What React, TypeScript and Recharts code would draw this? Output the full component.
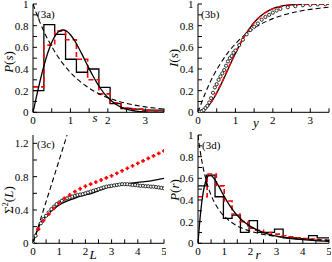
import React from 'react';
import { ComposedChart, Line, Scatter, XAxis, YAxis } from 'recharts';

const FONT = 'Liberation Serif, Times New Roman, serif';

// ---------- Panel (3a) ----------
const aEdges = [0, 0.29, 0.58, 0.87, 1.16, 1.46, 1.76, 2.06, 2.35, 2.64, 2.93, 3.22, 3.5];
const aBlackHist = [0.2, 0.81, 0.72, 0.49, 0.37, 0.4, 0.23, 0.08, 0.035, 0.03, 0.02, 0.02];
const aRedHist = [0.235, 0.62, 0.75, 0.67, 0.49, 0.3, 0.17, 0.088, 0.04, 0.03, 0.02, 0.015];
const aGoeS = [0, 0.1, 0.2, 0.3, 0.4, 0.5, 0.6, 0.7, 0.8, 0.9, 1.0, 1.1, 1.2, 1.3, 1.4, 1.5, 1.6, 1.7, 1.8, 1.9, 2.0, 2.2, 2.4, 2.6, 2.8, 3.0, 3.25, 3.5];
const aGoeP = [0, 0.156, 0.305, 0.439, 0.554, 0.645, 0.71, 0.748, 0.76, 0.748, 0.716, 0.668, 0.608, 0.542, 0.472, 0.403, 0.337, 0.276, 0.222, 0.175, 0.136, 0.077, 0.041, 0.02, 0.009, 0.004, 0.001, 0.0003];
const aPoiS = [0, 0.1, 0.2, 0.3, 0.4, 0.5, 0.6, 0.8, 1.0, 1.2, 1.4, 1.6, 1.8, 2.0, 2.25, 2.5, 2.75, 3.0, 3.25, 3.5];
const aPoiP = [1, 0.905, 0.819, 0.741, 0.67, 0.607, 0.549, 0.449, 0.368, 0.301, 0.247, 0.202, 0.165, 0.135, 0.105, 0.082, 0.064, 0.05, 0.039, 0.03];

// ---------- Panel (3b) ----------
const bGoeS = [0, 0.1, 0.2, 0.3, 0.4, 0.5, 0.6, 0.7, 0.8, 0.9, 1.0, 1.1, 1.2, 1.3, 1.4, 1.5, 1.6, 1.7, 1.8, 1.9, 2.0, 2.2, 2.4, 2.6, 2.8, 3.0, 3.5];
const bGoeI = [0, 0.008, 0.031, 0.068, 0.118, 0.178, 0.246, 0.319, 0.395, 0.471, 0.544, 0.613, 0.677, 0.735, 0.785, 0.829, 0.866, 0.897, 0.922, 0.941, 0.957, 0.978, 0.989, 0.995, 0.998, 0.999, 1.0];
const bRedS = [0, 0.2, 0.4, 0.6, 0.8, 1.0, 1.2, 1.4, 1.6, 1.8, 2.0, 2.2, 2.5, 3.0, 3.5];
const bRedI = [0, 0.04, 0.12, 0.25, 0.4, 0.55, 0.68, 0.785, 0.865, 0.92, 0.955, 0.975, 0.99, 0.997, 1.0];
const bPoiS = [0, 0.2, 0.4, 0.6, 0.8, 1.0, 1.2, 1.4, 1.6, 1.8, 2.0, 2.25, 2.5, 2.75, 3.0, 3.25, 3.5];
const bPoiI = [0, 0.181, 0.33, 0.451, 0.551, 0.632, 0.699, 0.753, 0.798, 0.835, 0.865, 0.895, 0.918, 0.936, 0.95, 0.961, 0.97];
const bDataS = [0.05, 0.1, 0.15, 0.2, 0.25, 0.3, 0.35, 0.4, 0.45, 0.5, 0.55, 0.6, 0.65, 0.7, 0.75, 0.8, 0.85, 0.9, 0.95, 1.0, 1.1, 1.2, 1.3, 1.4, 1.5, 1.6, 1.7, 1.8, 1.9, 2.0, 2.1, 2.2, 2.4, 2.6, 2.8, 3.0, 3.2, 3.4];
const bDataI = [0.005, 0.01, 0.02, 0.04, 0.06, 0.09, 0.13, 0.18, 0.23, 0.26, 0.3, 0.33, 0.36, 0.39, 0.43, 0.47, 0.5, 0.52, 0.55, 0.57, 0.62, 0.67, 0.72, 0.76, 0.79, 0.82, 0.855, 0.88, 0.9, 0.92, 0.94, 0.955, 0.97, 0.98, 0.988, 0.993, 0.996, 0.998];

// ---------- Panel (3c) ----------
const cPoiL = [0, 1.3];
const cPoiV = [0, 1.3];
const cGoeL = [0, 0.1, 0.2, 0.3, 0.4, 0.5, 0.75, 1.0, 1.25, 1.5, 1.75, 2.0, 2.25, 2.5, 2.75, 3.0, 3.5, 4.0, 4.5, 5.0];
const cGoeV = [0, 0.1, 0.18, 0.25, 0.29, 0.33, 0.4, 0.46, 0.5, 0.53, 0.56, 0.58, 0.6, 0.63, 0.66, 0.68, 0.71, 0.73, 0.75, 0.78];
const cRedL = [0.2, 0.4, 0.6, 0.8, 1.0, 1.2, 1.4, 1.6, 1.8, 2.0, 2.2, 2.4, 2.6, 2.8, 3.0, 3.2, 3.4, 3.6, 3.8, 4.0, 4.2, 4.4, 4.6, 4.8, 5.0];
const cRedV = [0.17, 0.27, 0.35, 0.42, 0.48, 0.54, 0.58, 0.62, 0.655, 0.685, 0.71, 0.735, 0.76, 0.785, 0.81, 0.84, 0.87, 0.9, 0.93, 0.96, 0.99, 1.02, 1.05, 1.08, 1.11];
const cDataL = [0, 0.1, 0.2, 0.3, 0.4, 0.5, 0.6, 0.7, 0.8, 0.9, 1.0, 1.1, 1.2, 1.3, 1.4, 1.5, 1.6, 1.7, 1.8, 1.9, 2.0, 2.1, 2.2, 2.3, 2.4, 2.5, 2.6, 2.7, 2.8, 2.9, 3.0, 3.1, 3.2, 3.3, 3.4, 3.5, 3.6, 3.7, 3.8, 3.9, 4.0, 4.1, 4.2, 4.3, 4.4, 4.5, 4.6, 4.7, 4.8, 4.9, 5.0];
const cDataV = [0, 0.09, 0.17, 0.24, 0.29, 0.33, 0.37, 0.41, 0.44, 0.47, 0.49, 0.51, 0.53, 0.54, 0.55, 0.56, 0.57, 0.58, 0.585, 0.59, 0.6, 0.61, 0.62, 0.63, 0.64, 0.65, 0.66, 0.67, 0.68, 0.685, 0.69, 0.695, 0.7, 0.705, 0.71, 0.71, 0.71, 0.705, 0.7, 0.7, 0.695, 0.69, 0.69, 0.685, 0.685, 0.68, 0.68, 0.675, 0.67, 0.665, 0.66];

// ---------- Panel (3d) ----------
const dEdges = [0, 0.32, 0.65, 0.97, 1.3, 1.62, 1.95, 2.27, 2.6, 2.92, 3.25, 3.57, 3.9, 4.22, 4.55, 4.87, 5.0];
const dBlackHist = [0.53, 0.63, 0.43, 0.23, 0.26, 0.1, 0.21, 0.1, 0.1, 0.13, 0.05, 0.05, 0.04, 0.07, 0.05, 0.05];
const dRedEdges = [0, 0.35, 0.7, 1.0, 1.3, 1.6, 1.9, 2.2, 2.5, 2.8, 3.1, 3.4, 3.7, 4.0, 4.3, 4.6, 4.9, 5.0];
const dRedHist = [0.43, 0.64, 0.53, 0.39, 0.27, 0.2, 0.14, 0.12, 0.1, 0.085, 0.07, 0.06, 0.05, 0.045, 0.04, 0.03, 0.025];
const dGoeR = [0, 0.05, 0.1, 0.2, 0.3, 0.4, 0.5, 0.6, 0.7, 0.8, 1.0, 1.2, 1.4, 1.6, 1.8, 2.0, 2.5, 3.0, 3.5, 4.0, 4.5, 5.0];
const dGoeP = [0, 0.156, 0.286, 0.473, 0.578, 0.622, 0.625, 0.602, 0.566, 0.523, 0.433, 0.352, 0.286, 0.232, 0.19, 0.156, 0.0995, 0.0665, 0.0463, 0.0334, 0.0248, 0.0189];
const dPoiR = [0, 0.1, 0.2, 0.3, 0.4, 0.5, 0.6, 0.8, 1.0, 1.2, 1.4, 1.6, 1.8, 2.0, 2.5, 3.0, 3.5, 4.0, 4.5, 5.0];
const dPoiP = [1, 0.826, 0.694, 0.592, 0.51, 0.444, 0.391, 0.309, 0.25, 0.207, 0.174, 0.148, 0.128, 0.111, 0.082, 0.0625, 0.049, 0.04, 0.033, 0.028];

// ---------- Axis ticks ----------
const ticks35 = [0, 0.5, 1, 1.5, 2, 2.5, 3, 3.5];
const ticks5 = [0, 0.5, 1, 1.5, 2, 2.5, 3, 3.5, 4, 4.5, 5];
const ticks1 = [0, 0.1, 0.2, 0.3, 0.4, 0.5, 0.6, 0.7, 0.8, 0.9, 1];
const ticks13 = [0, 0.2, 0.4, 0.6, 0.8, 1.0, 1.2];

const zip = (xs: number[], ys: number[]) => xs.map((x, i) => ({ x, y: ys[i] }));
const steps = (edges: number[], hs: number[]) =>
  edges.map((x, i) => ({ x, y: hs[Math.min(i, hs.length - 1)] }));

const intFmt = (v: number) => (Number.isInteger(v) ? String(v) : '');
const fmtEvery = (n: number) => (v: number) => (Math.round(v * 10) % n === 0 ? String(v) : '');

const tickStyle = { fontSize: 11, fill: '#000', fontFamily: FONT };

const Circle = (p: any) => (
  <circle cx={p.cx} cy={p.cy} r={1.6} fill="#fff" stroke="#000" strokeWidth={0.8} />
);
const Plus = (p: any) => {
  const { cx, cy } = p;
  const a = 1.9, b = 0.8;
  return (
    <path
      d={`M${cx - b},${cy - a}H${cx + b}V${cy - b}H${cx + a}V${cy + b}H${cx + b}V${cy + a}H${cx - b}V${cy + b}H${cx - a}V${cy - b}H${cx - b}Z`}
      fill="#ff0000"
    />
  );
};

function Panel(props: {
  left: number; top: number; xMax: number; xTicks: number[]; yMax: number; yTicks: number[];
  yFmt: (v: number) => string; children: React.ReactNode;
}) {
  const { left, top, xMax, xTicks, yMax, yTicks, yFmt, children } = props;
  return (
    <div style={{ position: 'absolute', left, top, width: 166, height: 131 }}>
      <ComposedChart width={166} height={131} margin={{ top: 4, right: 2, bottom: 0, left: 0 }}>
        <XAxis type="number" dataKey="x" domain={[0, xMax]} ticks={xTicks} interval={0}
          allowDataOverflow height={18.7} tickSize={-4} tickMargin={8} tickFormatter={intFmt}
          tick={tickStyle} stroke="#000" />
        <XAxis xAxisId="top" orientation="top" type="number" domain={[0, xMax]} ticks={xTicks}
          interval={0} allowDataOverflow height={0} tickSize={-4} tick={false} stroke="#000" />
        <YAxis type="number" dataKey="y" domain={[0, yMax]} ticks={yTicks} interval={0}
          allowDataOverflow width={33} tickSize={-4} tickMargin={8.5} tickFormatter={yFmt}
          tick={tickStyle} stroke="#000" />
        <YAxis yAxisId="right" orientation="right" type="number" domain={[0, yMax]} ticks={yTicks}
          interval={0} allowDataOverflow width={0} tickSize={-4} tick={false} stroke="#000" />
        {children}
      </ComposedChart>
    </div>
  );
}

const lineCommon = { dot: false, activeDot: false, isAnimationActive: false, dataKey: 'y' } as any;

export default function App() {
  return (
    <div style={{ position: 'absolute', left: 0, top: 0, width: 332, height: 262, background: '#fff' }}>
      <Panel left={0} top={0} xMax={3.5} xTicks={ticks35} yMax={1} yTicks={ticks1} yFmt={fmtEvery(2)}>
        <Line {...lineCommon} data={steps(aEdges, aBlackHist)} type="stepAfter" stroke="#000" strokeWidth={1.3} />
        <Line {...lineCommon} data={steps(aEdges, aRedHist)} type="stepAfter" stroke="#ff0000" strokeWidth={1.6} strokeDasharray="5 3" />
        <Line {...lineCommon} data={zip(aPoiS, aPoiP)} type="monotone" stroke="#000" strokeWidth={1.1} strokeDasharray="5 3" />
        <Line {...lineCommon} data={zip(aGoeS, aGoeP)} type="monotone" stroke="#000" strokeWidth={1.3} />
      </Panel>
      <Panel left={165} top={0} xMax={3.5} xTicks={ticks35} yMax={1} yTicks={ticks1} yFmt={fmtEvery(2)}>
        <Line {...lineCommon} data={zip(bPoiS, bPoiI)} type="monotone" stroke="#000" strokeWidth={1.1} strokeDasharray="5 3" />
        <Scatter data={zip(bDataS, bDataI)} dataKey="y" shape={Circle} isAnimationActive={false} />
        <Line {...lineCommon} data={zip(bGoeS, bGoeI)} type="monotone" stroke="#000" strokeWidth={1.3} />
        <Line {...lineCommon} data={zip(bRedS, bRedI)} type="monotone" stroke="#ff0000" strokeWidth={1.6} strokeDasharray="5 3" />
      </Panel>
      <Panel left={0} top={131} xMax={5} xTicks={ticks5} yMax={1.3} yTicks={ticks13} yFmt={fmtEvery(4)}>
        <Line {...lineCommon} data={zip(cPoiL, cPoiV)} type="linear" stroke="#000" strokeWidth={1.1} strokeDasharray="5 3" />
        <Line {...lineCommon} data={zip(cGoeL, cGoeV)} type="monotone" stroke="#000" strokeWidth={1.3} />
        <Scatter data={zip(cDataL, cDataV)} dataKey="y" shape={Circle} isAnimationActive={false} />
        <Scatter data={zip(cRedL, cRedV)} dataKey="y" shape={Plus} isAnimationActive={false} />
      </Panel>
      <Panel left={165} top={131} xMax={5} xTicks={ticks5} yMax={1} yTicks={ticks1} yFmt={fmtEvery(2)}>
        <Line {...lineCommon} data={steps(dEdges, dBlackHist)} type="stepAfter" stroke="#000" strokeWidth={1.3} />
        <Line {...lineCommon} data={steps(dRedEdges, dRedHist)} type="stepAfter" stroke="#ff0000" strokeWidth={1.6} strokeDasharray="5 3" />
        <Line {...lineCommon} data={zip(dPoiR, dPoiP)} type="monotone" stroke="#000" strokeWidth={1.1} strokeDasharray="5 3" />
        <Line {...lineCommon} data={zip(dGoeR, dGoeP)} type="monotone" stroke="#000" strokeWidth={1.3} />
      </Panel>
      <svg width={332} height={262} style={{ position: 'absolute', left: 0, top: 0, pointerEvents: 'none' }}
        fontFamily={FONT}>
        <g fontSize={11}>
          <text x={37} y={17.5}>(3a)</text>
          <text x={201} y={17.5}>(3b)</text>
          <text x={37} y={147.5}>(3c)</text>
          <text x={202} y={148.5}>(3d)</text>
        </g>
        <g fontSize={13}>
          <text transform="translate(12.5,62) rotate(-90)" textAnchor="middle">
            <tspan fontStyle="italic">P</tspan>(<tspan fontStyle="italic">s</tspan>)
          </text>
          <text transform="translate(178,58) rotate(-90)" textAnchor="middle">
            <tspan fontStyle="italic">I</tspan>(<tspan fontStyle="italic">s</tspan>)
          </text>
          <text transform="translate(12.5,200) rotate(-90)" textAnchor="middle">
            Σ<tspan fontSize={8} dy={-5}>2</tspan><tspan dy={5}>(</tspan><tspan fontStyle="italic">L</tspan>)
          </text>
          <text transform="translate(178.5,190) rotate(-90)" textAnchor="middle">
            <tspan fontStyle="italic">P</tspan>(<tspan fontStyle="italic">r</tspan>)
          </text>
          <text x={95} y={122} textAnchor="middle" fontStyle="italic">s</text>
          <text x={256} y={127} textAnchor="middle" fontStyle="italic">y</text>
          <text x={93} y={259} textAnchor="middle" fontStyle="italic">L</text>
          <text x={258} y={259} textAnchor="middle" fontStyle="italic">r</text>
        </g>
      </svg>
    </div>
  );
}
